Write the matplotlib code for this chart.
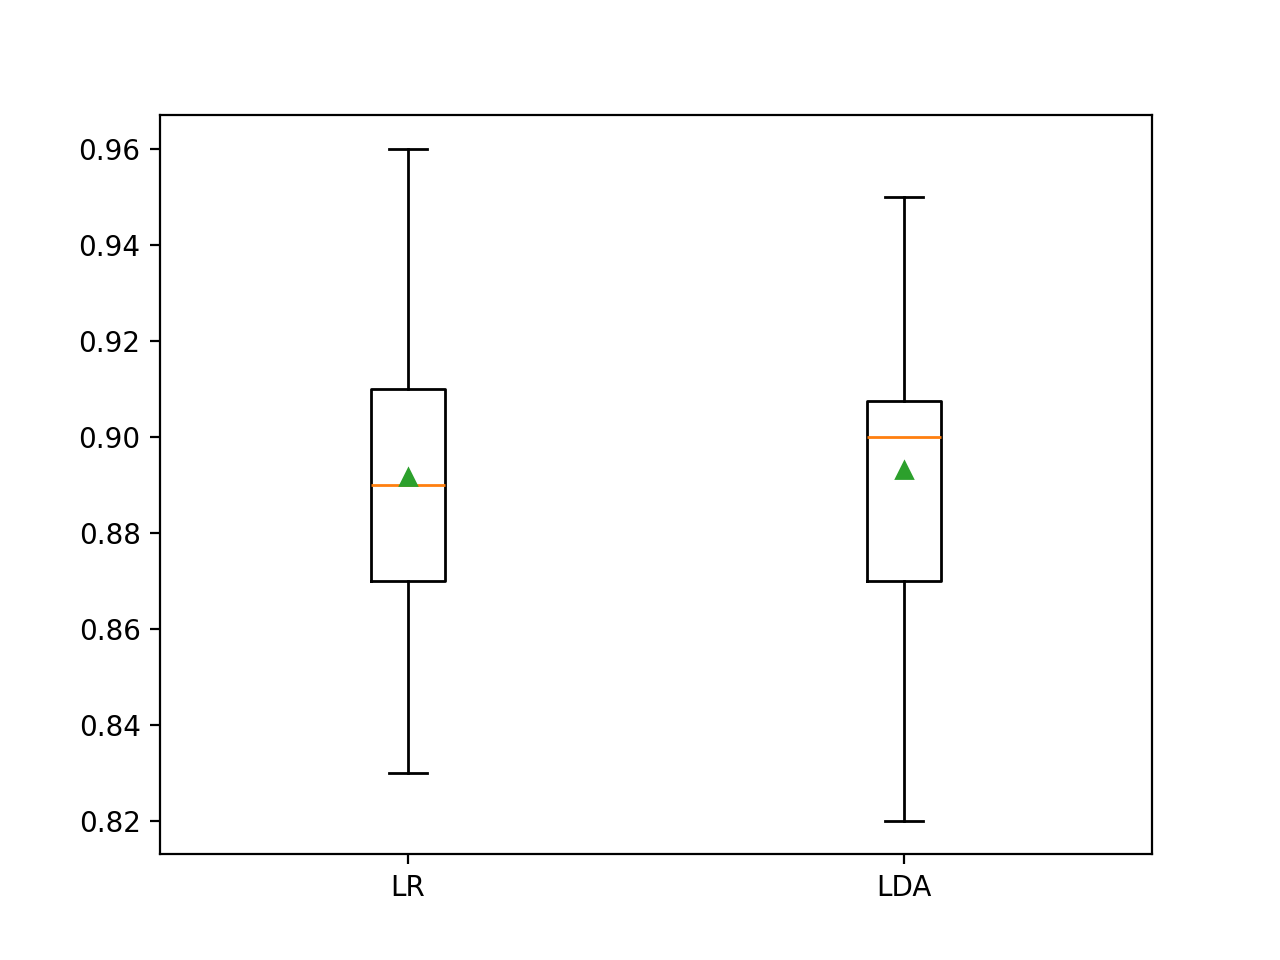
import matplotlib
matplotlib.use('Agg')
import matplotlib.pyplot as plt

names = ['LR', 'LDA']
whislo = [0.83, 0.82]
q1 = [0.87, 0.87]
med = [0.89, 0.90]
q3 = [0.91, 0.9075]
whishi = [0.96, 0.95]
means = [0.8917, 0.8931]

stats = []
for i in range(len(names)):
	stats.append({
		'label': names[i],
		'whislo': whislo[i],
		'q1': q1[i],
		'med': med[i],
		'q3': q3[i],
		'whishi': whishi[i],
		'mean': means[i],
		'fliers': [],
	})

fig, ax = plt.subplots(figsize=(6.4, 4.8))
ax.bxp(stats, showmeans=True)
plt.savefig('out.png', dpi=200)
